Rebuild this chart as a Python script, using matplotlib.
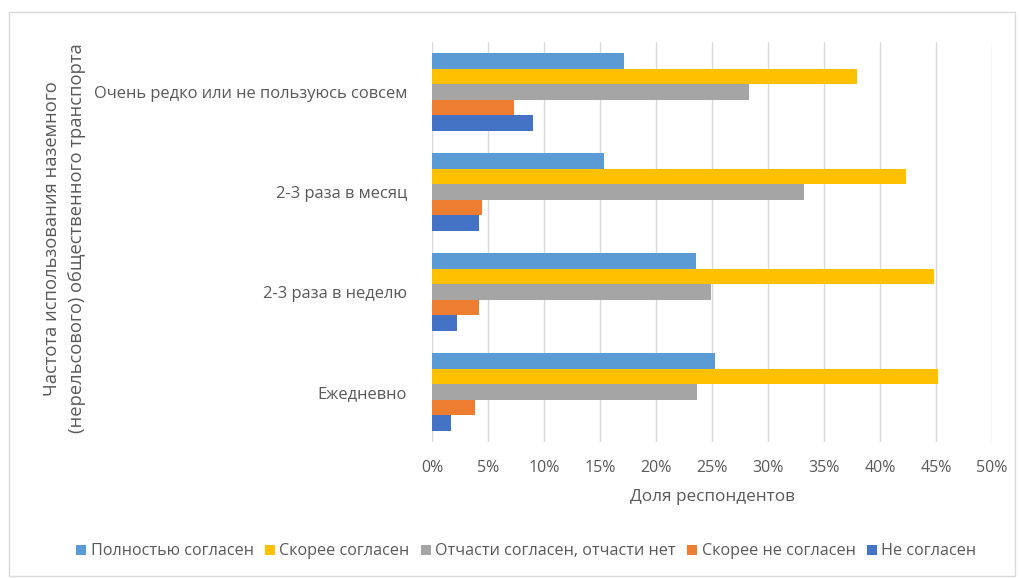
import matplotlib.pyplot as plt
import numpy as np
from matplotlib.patches import Rectangle
from matplotlib.ticker import FuncFormatter

plt.rcParams['font.family'] = ['Open Sans', 'DejaVu Sans']

# frequency of use, bottom to top on the y axis
categories = ["Ежедневно", "2-3 раза в неделю", "2-3 раза в месяц",
              "Очень редко или не пользуюсь совсем"]

series_names = ["Полностью согласен", "Скорее согласен",
                "Отчасти согласен, отчасти нет", "Скорее не согласен",
                "Не согласен"]

# shares of respondents, %
fully_agree = [25.3, 23.6, 15.4, 17.1]
rather_agree = [45.2, 44.8, 42.3, 37.9]
partly_agree = [23.7, 24.9, 33.2, 28.3]
rather_disagree = [3.8, 4.2, 4.5, 7.3]
disagree = [1.7, 2.2, 4.2, 9.0]

values = [fully_agree, rather_agree, partly_agree, rather_disagree, disagree]
colors = ["#5B9BD5", "#FFC000", "#A5A5A5", "#ED7D31", "#4472C4"]

text_color = "#595959"

fig = plt.figure(figsize=(10.22, 5.78), dpi=100)
fig.patches.append(Rectangle((0.009, 0.004), 0.984, 0.975, transform=fig.transFigure,
                             fill=False, edgecolor="#D9D9D9", linewidth=1.0))
ax = fig.add_axes([0.4227, 0.235, 0.548, 0.692])

y = np.arange(len(categories))
bar_h = 0.155
for i, (name, vals, c) in enumerate(zip(series_names, values, colors)):
    offset = (2 - i) * bar_h
    ax.barh(y + offset, vals, height=bar_h, color=c, label=name, zorder=3)

ax.set_xlim(0, 50)
ax.set_ylim(-0.5, len(categories) - 0.5)
ax.set_xticks(np.arange(0, 51, 5))
ax.xaxis.set_major_formatter(FuncFormatter(lambda v, p: f"{v:.0f}%"))
ax.set_yticks(y)
ax.set_yticklabels(categories)
ax.grid(axis="x", color="#D9D9D9", linewidth=1.0, zorder=0)
for s in ax.spines.values():
    s.set_visible(False)
ax.tick_params(axis="x", length=0, labelsize=11.5, colors=text_color, pad=13)
ax.tick_params(axis="y", length=0, labelsize=11.9, colors=text_color, pad=18)

ax.set_xlabel("Доля респондентов", fontsize=12.3, color=text_color, labelpad=9)
fig.text(0.063, 0.588, "Частота использования наземного\n(нерельсового) общественного транспорта",
         rotation=90, ha="center", va="center", fontsize=13.2, color=text_color,
         linespacing=1.45)

handles, labels = ax.get_legend_handles_labels()
fig.legend(handles, labels, loc="center", bbox_to_anchor=(0.515, 0.046), ncol=5,
           frameon=False, fontsize=11.6, labelcolor=text_color,
           handlelength=0.6, handleheight=0.6, handletextpad=0.3, columnspacing=0.7)

fig.savefig("out.png", dpi=100)
